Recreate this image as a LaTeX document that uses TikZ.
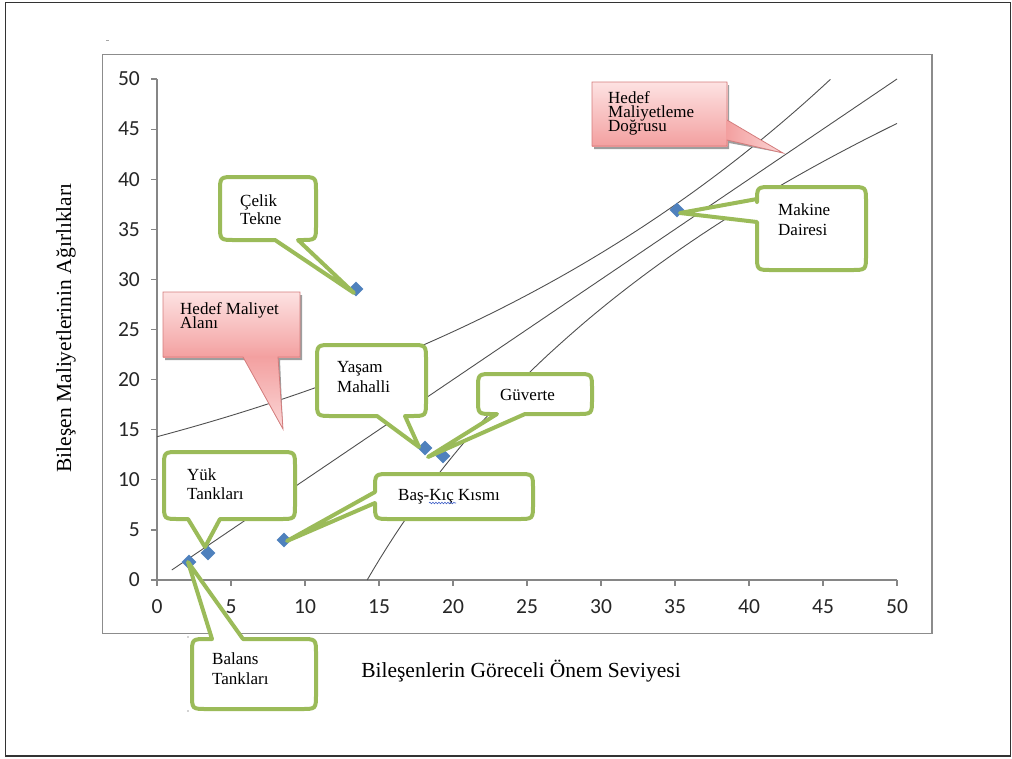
\documentclass[tikz,border=0pt]{standalone}
\usepackage{fontspec}
\setmainfont{Liberation Serif}
\newfontfamily\tickfont{Carlito}
\usetikzlibrary{shapes.geometric,decorations.pathmorphing}
\definecolor{cgreen}{HTML}{9BBB59}
\definecolor{cblue}{HTML}{4F81BD}
\definecolor{rtop}{HTML}{FDE2E2}
\definecolor{rbot}{HTML}{F3A0A0}
\definecolor{rtip}{HTML}{FBD6D6}
\definecolor{rline}{HTML}{D47C7C}
\definecolor{axisgray}{HTML}{868686}
\definecolor{curvegray}{HTML}{505050}
\definecolor{framegray}{HTML}{8C8C8C}
\definecolor{spellblue}{HTML}{4060C8}
\def\crad{15}
\newcommand\calloutBottom[7]{%
\draw[greencall] ({#1+\crad},#2) -- ({#3-\crad},#2) .. controls (#3,#2) .. (#3,{#2+\crad}) -- (#3,{#4-\crad}) .. controls (#3,#4) .. ({#3-\crad},#4) -- (#6,#4) -- (#7) -- (#5,#4) -- ({#1+\crad},#4) .. controls (#1,#4) .. (#1,{#4-\crad}) -- (#1,{#2+\crad}) .. controls (#1,#2) .. ({#1+\crad},#2) -- cycle;}
\newcommand\calloutLeft[7]{%
\draw[greencall] ({#1+\crad},#2) -- ({#3-\crad},#2) .. controls (#3,#2) .. (#3,{#2+\crad}) -- (#3,{#4-\crad}) .. controls (#3,#4) .. ({#3-\crad},#4) -- ({#1+\crad},#4) .. controls (#1,#4) .. (#1,{#4-\crad}) -- (#1,#6) -- (#7) -- (#1,#5) -- (#1,{#2+\crad}) .. controls (#1,#2) .. ({#1+\crad},#2) -- cycle;}
\newcommand\calloutTop[7]{%
\draw[greencall] ({#1+\crad},#2) -- (#5,#2) -- (#7) -- (#6,#2) -- ({#3-\crad},#2) .. controls (#3,#2) .. (#3,{#2+\crad}) -- (#3,{#4-\crad}) .. controls (#3,#4) .. ({#3-\crad},#4) -- ({#1+\crad},#4) .. controls (#1,#4) .. (#1,{#4-\crad}) -- (#1,{#2+\crad}) .. controls (#1,#2) .. ({#1+\crad},#2) -- cycle;}
\tikzset{
  greencall/.style={draw=cgreen, line width=4pt, fill=white, line join=round},
  lbl/.style={anchor=base west, inner sep=0pt, font=\fontsize{17}{19}\selectfont},
  axisline/.style={draw=axisgray, line width=1.2pt},
  curve/.style={draw=curvegray, line width=0.9pt},
  dia/.style={diamond, fill=cblue, inner sep=0pt, minimum width=15pt, minimum height=15pt},
  ytick/.style={anchor=east, inner sep=0pt, text=black!85, font=\tickfont\fontsize{21.5}{21.5}\selectfont},
  xtick/.style={anchor=center, inner sep=0pt, text=black!85, font=\tickfont\fontsize{21.5}{21.5}\selectfont},
  redbox/.style={draw=rline, line width=0.8pt, line join=miter},
  redshadow/.style={fill=black!38},
}
\begin{document}
\begin{tikzpicture}[x=1pt,y=-1pt]
\useasboundingbox (0,0) rectangle (1012,758);
% frames
\draw[draw=black!80, line width=1.5pt] (5.5,2.5) rectangle (1010.5,756);
\draw[draw=framegray, line width=1.5pt] (102.5,54.5) rectangle (932,633.5);
% axes
\draw[axisline] (157,79) -- (157,580) -- (897,580);
\foreach \v in {0,5,...,50} {
  \draw[axisline] (151,{580-10.02*\v}) -- (157,{580-10.02*\v});
  \draw[axisline] ({157+14.8*\v},580) -- ({157+14.8*\v},586);
  \node[ytick] (yl\v) at (140,{580-10.02*\v}) {\v};
  \node[xtick] (xl\v) at ({157+14.8*\v},607) {\v};
}
% titles
\node[inner sep=0pt, rotate=90, font=\fontsize{21.5}{24}\selectfont] (ytitle) at (66,328) {Bileşen Maliyetlerinin Ağırlıkları};
\node[anchor=base, inner sep=0pt, font=\fontsize{21.5}{24}\selectfont] (xtitle) at (521,677) {Bileşenlerin Göreceli Önem Seviyesi};
% curves
\begin{scope}[shift={(157,580)}, x=14.8pt, y=10.02pt]
  \draw[curve] plot[domain=0:45.5, samples=80] (\x, {14.3*exp(0.0275*\x)});
  \draw[curve] (1,1) -- (50,50);
  \draw[curve] plot[domain=14.2:50, samples=80] (\x, {36.2*ln(\x/14.2)});
\end{scope}
% data points
\node[dia] (dCel) at (356,289) {};
\node[dia] (dMak) at (677,210) {};
\node[dia] (dYas) at (425,448) {};
\node[dia] (dGuv) at (443,456) {};
\node[dia] (dBas) at (284,540) {};
\node[dia] (dYuk) at (208,553) {};
\node[dia] (dBal) at (189,562) {};
% pointer tips
\coordinate (pCel) at (354,293);
\coordinate (pMak) at (680,213);
\coordinate (pYas) at (419,447);
\coordinate (pGuv) at (428,457);
\coordinate (pBas) at (287,541);
\coordinate (pYuk) at (205,547);
\coordinate (pBal) at (188,562);
\coordinate (pHMA) at (283,429);
\coordinate (pHMD) at (783,153);
% red box: Hedef Maliyet Alani
\fill[redshadow, shift={(2,3)}] (163,292) -- (300,292) -- (300,357) -- (278,357) -- (pHMA) -- (243,357) -- (163,357) -- cycle;
\shade[top color=rtop, bottom color=rbot] (163,292) rectangle (300,357.4);
\shade[top color=rbot, bottom color=rtip] (243,356.6) -- (278,356.6) -- (pHMA) -- cycle;
\draw[redbox] (163,292) -- (300,292) -- (300,357) -- (278,357) -- (pHMA) -- (243,357) -- (163,357) -- cycle;
% red box: Hedef Maliyetleme Dogrusu
\fill[redshadow, shift={(2,3)}] (592,82) -- (727,82) -- (727,120) -- (pHMD) -- (727,140) -- (727,146) -- (592,146) -- cycle;
\shade[top color=rtop, bottom color=rbot] (592,82) rectangle (727.4,146);
\shade[left color=rbot, right color=rtip] (726.6,120) -- (pHMD) -- (726.6,140) -- cycle;
\draw[redbox] (592,82) -- (727,82) -- (727,120) -- (pHMD) -- (727,140) -- (727,146) -- (592,146) -- cycle;
% green callouts
\calloutBottom{220}{177}{316}{240}{275}{298}{pCel}
\calloutLeft{757}{187}{866}{270}{199}{222}{pMak}
\calloutBottom{317}{345}{426}{416}{377}{405}{pYas}
\calloutBottom{478}{374}{592}{414}{497}{525}{pGuv}
\calloutLeft{375}{474}{533}{519}{492}{503}{pBas}
\calloutBottom{164}{452}{295}{519}{188}{220}{pYuk}
\calloutTop{192}{639}{316}{709}{212}{243}{pBal}
% texts
\node[lbl] (tCel1) at (240,206) {Çelik};
\node[lbl] (tCel2) at (240,224) {Tekne};
\node[lbl] (tMak1) at (778,215) {Makine};
\node[lbl] (tMak2) at (778,235) {Dairesi};
\node[lbl] (tYas1) at (337,372) {Yaşam};
\node[lbl] (tYas2) at (337,392) {Mahalli};
\node[lbl] (tGuv) at (500,400) {Güverte};
\node[lbl] (tBas) at (398,500) {Baş-Kıç Kısmı};
\node[lbl] (tYuk1) at (187,480) {Yük};
\node[lbl] (tYuk2) at (187,499) {Tankları};
\node[lbl] (tBal1) at (212,664) {Balans};
\node[lbl] (tBal2) at (212,684) {Tankları};
\node[lbl] (tHM1) at (180,314) {Hedef Maliyet};
\node[lbl] (tHM2) at (180,328) {Alanı};
\node[lbl] (tHD1) at (608,103) {Hedef};
\node[lbl] (tHD2) at (608,117) {Maliyetleme};
\node[lbl] (tHD3) at (608,131) {Doğrusu};
\draw[spellblue, line width=0.6pt, decorate, decoration={snake, amplitude=0.8pt, segment length=3pt}] (429,503) -- (456,503);
% small marks
\draw[black!35, line width=0.8pt] (106,40.5) -- (109,40.5);
\fill[black!35] (188,637) circle[radius=0.8pt];
\fill[black!35] (188,711) circle[radius=0.8pt];
\end{tikzpicture}
\end{document}
